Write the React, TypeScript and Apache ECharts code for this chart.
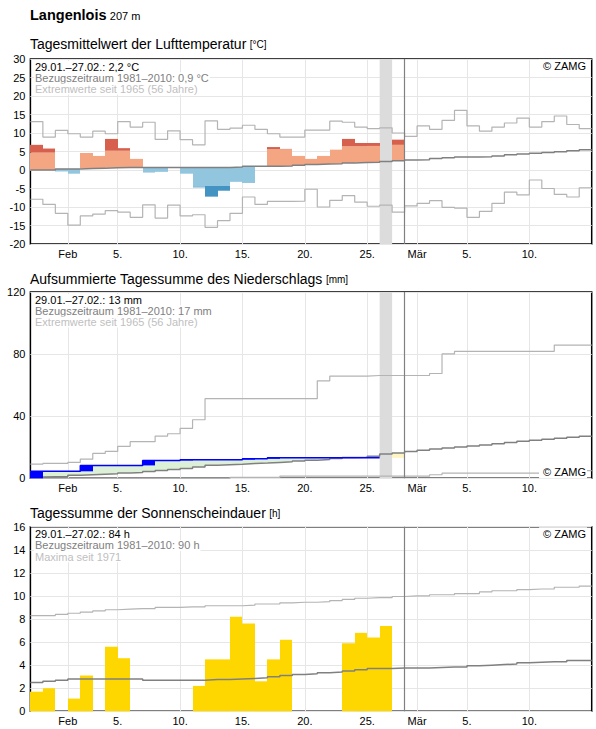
import React, { useEffect, useRef } from "react";
import * as echarts from "echarts";

const FONT = '"Liberation Sans", Arial, Helvetica, sans-serif';

// ---- x axis (day index 0 = 29.01., 45 days up to 14.03.) ----
const DAYS = 45;
const tickDays = [3, 7, 12, 17, 22, 27, 31, 35, 40];
const tickLabels = ["Feb", "5.", "10.", "15.", "20.", "25.", "Mär", "5.", "10."];
const missingDay = 28; // 26.02. no data
const dataEnd = 30; // end of 27.02.

// ---- temperature (°C) ----
const tempNormal = [0.0, 0.0, 0.3, 0.3, 0.4, 0.5, 0.6, 0.7, 0.7, 0.7, 0.7, 0.7, 0.7, 0.7, 0.7, 0.7, 0.8, 1.0, 1.0, 1.0, 1.1, 1.3, 1.5, 1.6, 1.7, 1.9, 2.0, 2.1, 2.3, 2.5, 2.7, 2.8, 3.1, 3.3, 3.5, 3.5, 3.6, 3.8, 4.1, 4.3, 4.5, 4.7, 4.9, 5.2, 5.5];
const tempValue = [6.8, 5.8, -0.4, -1.0, 4.6, 3.8, 8.4, 5.9, 3.0, -0.7, -0.5, 0.7, -1.0, -4.7, -7.2, -5.6, -3.2, -3.5, 1.0, 6.2, 5.7, 3.8, 3.0, 3.8, 5.5, 8.4, 7.3, 7.3, null, 8.2];
const tempModerateEdge = [4.7, 4.7, null, null, null, null, 5.2, 5.2, null, null, null, null, null, -4.5, -4.3, -4.3, null, null, null, 5.6, 5.6, null, null, null, null, 6.4, 6.4, 6.5, null, 6.8];
const tempMax = [13.1, 8.9, 10.7, 9.8, 8.9, 10.5, 9.8, 13.1, 11.6, 12.9, 8.3, 10.6, 8.2, 6.8, 13.3, 11.0, 11.3, 12.1, 11.0, 9.8, 8.9, 8.9, 10.8, 10.8, 13.2, 12.9, 11.6, 11.2, 11.4, 10.0, 9.1, 11.9, 11.0, 13.4, 16.1, 11.9, 10.5, 11.6, 12.7, 14.0, 11.6, 13.1, 14.6, 12.3, 11.2];
const tempMin = [-7.9, -9.3, -11.7, -14.9, -12.4, -11.9, -11.0, -11.4, -12.8, -9.4, -13.0, -9.5, -12.4, -12.1, -15.5, -13.7, -11.7, -7.3, -9.3, -8.5, -8.5, -8.4, -5.2, -10.0, -8.2, -6.9, -8.7, -9.8, -9.5, -11.4, -9.7, -9.0, -8.3, -10.1, -10.3, -12.8, -11.2, -9.0, -6.0, -6.7, -2.7, -5.0, -6.6, -7.3, -4.8];

// ---- precipitation (mm) ----
const precipDaily = [4.5, 0, 0, 0, 3.8, 0, 0, 0, 0, 3.2, 0, 0, 0.5, 0, 0, 0, 0, 0.6, 0, 0.6, 0, 0, 0, 0, 0, 0, 0, 0, null, 0];
const precipNormal = [0.8, 1.0, 1.2, 2.0, 2.3, 2.6, 2.9, 3.4, 3.8, 4.4, 5.0, 5.6, 6.3, 7.3, 8.4, 8.8, 9.1, 9.5, 9.8, 10.2, 10.6, 11.1, 11.7, 12.1, 12.7, 13.4, 13.6, 14.2, 15.6, 16.3, 17.2, 18.0, 18.8, 19.5, 20.2, 20.8, 21.5, 22.3, 23.1, 23.9, 24.5, 25.2, 25.8, 26.5, 27.1];
const precipMax = [9.1, 9.6, 9.6, 10.2, 12.3, 16.0, 17.3, 20.6, 23.6, 23.6, 27.2, 28.7, 32.1, 37.7, 51.3, 51.3, 51.3, 51.3, 51.3, 51.3, 51.3, 51.3, 51.3, 62.8, 65.8, 65.8, 65.8, 66.2, 66.2, 66.2, 66.2, 66.2, 67.5, 80.1, 81.8, 81.8, 81.8, 81.8, 81.8, 81.8, 81.8, 81.8, 85.8, 85.8, 85.8];
const precipMin = [0, 0, 0, 0, 0, 0, 0, 0, 0, 0, 0, 0, 0, 0, 0, 0, 0.6, 0.6, 0.6, 0.6, 1.4, 1.4, 1.4, 1.4, 1.4, 1.4, 1.4, 1.4, 1.4, 1.4, 1.4, 1.4, 2.3, 3.3, 3.3, 3.3, 3.3, 3.3, 3.3, 3.3, 3.3, 4.4, 5.0, 5.0, 5.0];

// ---- sunshine (h) ----
const sunValue = [1.7, 2.0, 0, 1.1, 3.1, 0, 5.6, 4.6, 0, 0, 0, 0, 0, 2.2, 4.5, 4.5, 8.2, 7.6, 2.6, 4.5, 6.2, 0, 0, 0, 0, 5.9, 6.8, 6.4, 7.4, 0];
const sunNormal = [2.5, 2.6, 2.7, 2.8, 2.8, 2.8, 2.8, 2.8, 2.8, 2.7, 2.7, 2.7, 2.7, 2.7, 2.75, 2.75, 2.8, 2.85, 2.9, 3.0, 3.1, 3.2, 3.25, 3.35, 3.4, 3.5, 3.6, 3.7, 3.7, 3.75, 3.75, 3.75, 3.8, 3.85, 3.85, 3.95, 4.0, 4.05, 4.1, 4.2, 4.25, 4.3, 4.3, 4.4, 4.4];
const sunMax = [8.3, 8.3, 8.4, 8.5, 8.6, 8.7, 8.8, 8.85, 8.9, 8.9, 9.0, 9.0, 9.05, 9.05, 9.15, 9.15, 9.15, 9.2, 9.3, 9.3, 9.4, 9.45, 9.45, 9.5, 9.6, 9.7, 9.8, 9.85, 9.85, 9.95, 10.0, 10.0, 10.1, 10.1, 10.2, 10.2, 10.35, 10.45, 10.45, 10.55, 10.6, 10.6, 10.75, 10.75, 10.85];

// ---- texts ----
const station = "Langenlois";
const altitude = "207 m";
const panelTitles = ["Tagesmittelwert der Lufttemperatur", "Aufsummierte Tagessumme des Niederschlags", "Tagessumme der Sonnenscheindauer"];
const panelUnits = ["[°C]", "[mm]", "[h]"];
const legendLines = [
  ["29.01.–27.02.: 2,2 °C", "Bezugszeitraum 1981–2010: 0,9 °C", "Extremwerte seit 1965 (56 Jahre)"],
  ["29.01.–27.02.: 13 mm", "Bezugszeitraum 1981–2010: 17 mm", "Extremwerte seit 1965 (56 Jahre)"],
  ["29.01.–27.02.: 84 h", "Bezugszeitraum 1981–2010: 90 h", "Maxima seit 1971"],
];
const yAxes = [
  { min: -20, max: 30, interval: 5 },
  { min: 0, max: 120, interval: 40 },
  { min: 0, max: 16, interval: 2 },
];

// ---- layout ----
const LEFT = 30.4;
const WIDTH = 561.3;
const GRIDS = [
  { top: 59, height: 185 },
  { top: 292, height: 186.3 },
  { top: 526.7, height: 184.6 },
];
const TITLE_Y = [43.5, 278.5, 512.5];

function stepPts(vals: (number | null)[], from = 0, to = vals.length) {
  const pts: any[] = [];
  for (let i = from; i < to; i++) {
    const v = vals[i];
    if (v == null) continue;
    pts.push([i, v], [i + 1, v]);
  }
  return pts;
}

function bandSeries(g: number, data: number[][], color: string, z = 2) {
  return {
    type: "custom",
    xAxisIndex: g,
    yAxisIndex: g,
    z,
    silent: true,
    encode: { x: 0, y: [1, 2] },
    data,
    renderItem: (_p: any, api: any) => {
      const i = api.value(0);
      const a = api.value(1);
      const b = api.value(2);
      const p0 = api.coord([i, a]);
      const p1 = api.coord([i + 1, b]);
      const x0 = Math.round(p0[0]);
      const x1 = Math.round(p1[0]);
      const yTop = Math.min(p0[1], p1[1]);
      const yBot = Math.max(p0[1], p1[1]);
      return {
        type: "rect",
        shape: { x: x0, y: yTop, width: x1 - x0, height: yBot - yTop },
        style: { fill: color },
      };
    },
  };
}

function lineSeries(g: number, data: any[], color: string, width: number, z = 3, extra: any = {}) {
  return {
    type: "line",
    xAxisIndex: g,
    yAxisIndex: g,
    data,
    z,
    symbol: "none",
    silent: true,
    lineStyle: { color, width },
    ...extra,
  };
}

const grayBand = {
  silent: true,
  label: { show: false },
  itemStyle: { color: "#dcdcdc" },
  data: [[{ xAxis: missingDay }, { xAxis: missingDay + 1 }]],
};
const endLine = {
  silent: true,
  symbol: ["none", "none"],
  label: { show: false },
  lineStyle: { color: "#808080", width: 1.2, type: "solid" },
  data: [{ xAxis: dataEnd }],
};

function text(t: string, x: number, y: number, color: string, size: number, align = "left", extra: any = {}) {
  return {
    type: "text",
    x,
    y,
    z: 100,
    silent: true,
    style: {
      text: t,
      fill: color,
      font: `${size}px ${FONT}`,
      align,
      textAlign: align,
      verticalAlign: "middle",
      textVerticalAlign: "middle",
      ...extra,
    },
  };
}

function buildOption() {
  // temperature bars
  const tLightPos: number[][] = [];
  const tDarkPos: number[][] = [];
  const tLightNeg: number[][] = [];
  const tDarkNeg: number[][] = [];
  tempValue.forEach((v, i) => {
    if (v == null) return;
    const n = tempNormal[i];
    const m = tempModerateEdge[i];
    if (v >= n) {
      tLightPos.push([i, n, m == null ? v : m]);
      if (m != null) tDarkPos.push([i, m, v]);
    } else {
      tLightNeg.push([i, n, m == null ? v : m]);
      if (m != null) tDarkNeg.push([i, m, v]);
    }
  });

  // precipitation accumulation
  const precipAccum: (number | null)[] = [];
  let acc = 0;
  precipDaily.forEach((d) => {
    if (d == null) {
      precipAccum.push(null);
      return;
    }
    acc += d;
    precipAccum.push(Math.round(acc * 10) / 10);
  });
  const pGreen: number[][] = [];
  const pYellow: number[][] = [];
  const pBlue: number[][] = [];
  let prev = 0;
  precipAccum.forEach((a, i) => {
    if (a == null) return;
    const n = precipNormal[i];
    if (a >= n) pGreen.push([i, n, a]);
    else pYellow.push([i, a, n]);
    const d = precipDaily[i] as number;
    if (d > 0) pBlue.push([i, prev, a]);
    prev = a;
  });

  const sunBars: number[][] = sunValue.map((v, i) => [i, 0, v]).filter((r) => r[2] > 0);

  const grids = GRIDS.map((g) => ({
    left: LEFT,
    width: WIDTH,
    top: g.top,
    height: g.height,
    show: true,
    borderColor: "#000",
    borderWidth: 1.5,
    backgroundColor: "transparent",
  }));

  const xAxis = GRIDS.map((_g, k) => ({
    type: "value",
    gridIndex: k,
    min: 0,
    max: DAYS,
    axisLine: { show: false },
    axisTick: { show: false, customValues: tickDays },
    axisLabel: {
      customValues: tickDays,
      formatter: (v: number) => tickLabels[tickDays.indexOf(Math.round(v))] ?? "",
      color: "#000",
      fontSize: 11,
      fontFamily: FONT,
      margin: 4,
    },
    splitLine: { show: true, lineStyle: { color: "#e6e6e6", width: 1 } },
  }));

  const yAxis = yAxes.map((y, k) => ({
    type: "value",
    gridIndex: k,
    min: y.min,
    max: y.max,
    interval: y.interval,
    axisLine: { show: false },
    axisTick: { show: false },
    axisLabel: { color: "#000", fontSize: 11, fontFamily: FONT, margin: 5 },
    splitLine: { show: true, lineStyle: { color: "#e6e6e6", width: 1 } },
  }));

  const series: any[] = [
    // temperature
    bandSeries(0, tLightPos, "#f4a582"),
    bandSeries(0, tDarkPos, "#d6604d"),
    bandSeries(0, tLightNeg, "#92c5de"),
    bandSeries(0, tDarkNeg, "#4393c3"),
    lineSeries(0, stepPts(tempMax), "#b4b4b4", 1.2),
    lineSeries(0, stepPts(tempMin), "#b4b4b4", 1.2),
    lineSeries(0, stepPts(tempNormal), "#808080", 1.5, 3, { markArea: grayBand, markLine: endLine }),
    // precipitation
    bandSeries(1, pGreen, "#dcf0d7"),
    bandSeries(1, pYellow, "#fff4c2"),
    lineSeries(1, stepPts(precipMax), "#b4b4b4", 1.2),
    lineSeries(1, stepPts(precipMin), "#b4b4b4", 1.2),
    lineSeries(1, stepPts(precipNormal), "#808080", 1.5, 3, { markArea: grayBand, markLine: endLine }),
    bandSeries(1, pBlue, "#0000ff", 4),
    lineSeries(1, stepPts(precipAccum, 0, missingDay), "#0000ff", 1.5, 4),
    // sunshine
    bandSeries(2, sunBars, "#ffd700"),
    lineSeries(2, stepPts(sunMax), "#b4b4b4", 1.2),
    lineSeries(2, stepPts(sunNormal), "#808080", 1.5, 3, { markLine: endLine }),
  ];

  const graphics: any[] = [];
  graphics.push({
    type: "text",
    x: 30,
    y: 14.5,
    z: 100,
    silent: true,
    style: {
      text: `{a|${station}} {b|${altitude}}`,
      verticalAlign: "middle",
      textVerticalAlign: "middle",
      fill: "#000",
      rich: {
        a: { font: `bold 14.5px ${FONT}`, fill: "#000" },
        b: { font: `11px ${FONT}`, fill: "#000", padding: [2, 0, 0, 0] },
      },
    },
  });
  GRIDS.forEach((g, k) => {
    graphics.push({
      type: "text",
      x: 30,
      y: TITLE_Y[k],
      z: 100,
      silent: true,
      style: {
        text: `{a|${panelTitles[k]}} {b|${panelUnits[k]}}`,
        verticalAlign: "middle",
        textVerticalAlign: "middle",
        fill: "#000",
        rich: {
          a: { font: `14px ${FONT}`, fill: "#000" },
          b: { font: `10px ${FONT}`, fill: "#000", padding: [2, 0, 0, 0] },
        },
      },
    });
    const colors = ["#000000", "#808080", "#c0c0c0"];
    legendLines[k].forEach((t, j) => {
      graphics.push(
        text(t, 34, g.top + 7.5 + j * 11.25, colors[j], 11, "left", {
          backgroundColor: "#fff",
          padding: [0, 1, 0, 1],
        })
      );
    });
    const zy = k === 1 ? g.top + g.height - 6.5 : g.top + 7;
    graphics.push(
      text("© ZAMG", 587, zy, "#000", 11, "right", {
        backgroundColor: "#fff",
        padding: [1, 1, 1, 4],
      })
    );
  });

  return {
    animation: false,
    backgroundColor: "#fff",
    textStyle: { fontFamily: FONT },
    grid: grids,
    xAxis,
    yAxis,
    series,
    graphic: { elements: graphics },
  };
}

export default function App() {
  const ref = useRef<HTMLDivElement>(null);
  useEffect(() => {
    if (!ref.current) return;
    const chart = echarts.init(ref.current, null, { renderer: "svg" });
    chart.setOption(buildOption() as any);
    return () => chart.dispose();
  }, []);
  return (
    <div
      ref={ref}
      style={{ position: "absolute", left: 0, top: 0, width: 596, height: 729, background: "#fff" }}
    />
  );
}
